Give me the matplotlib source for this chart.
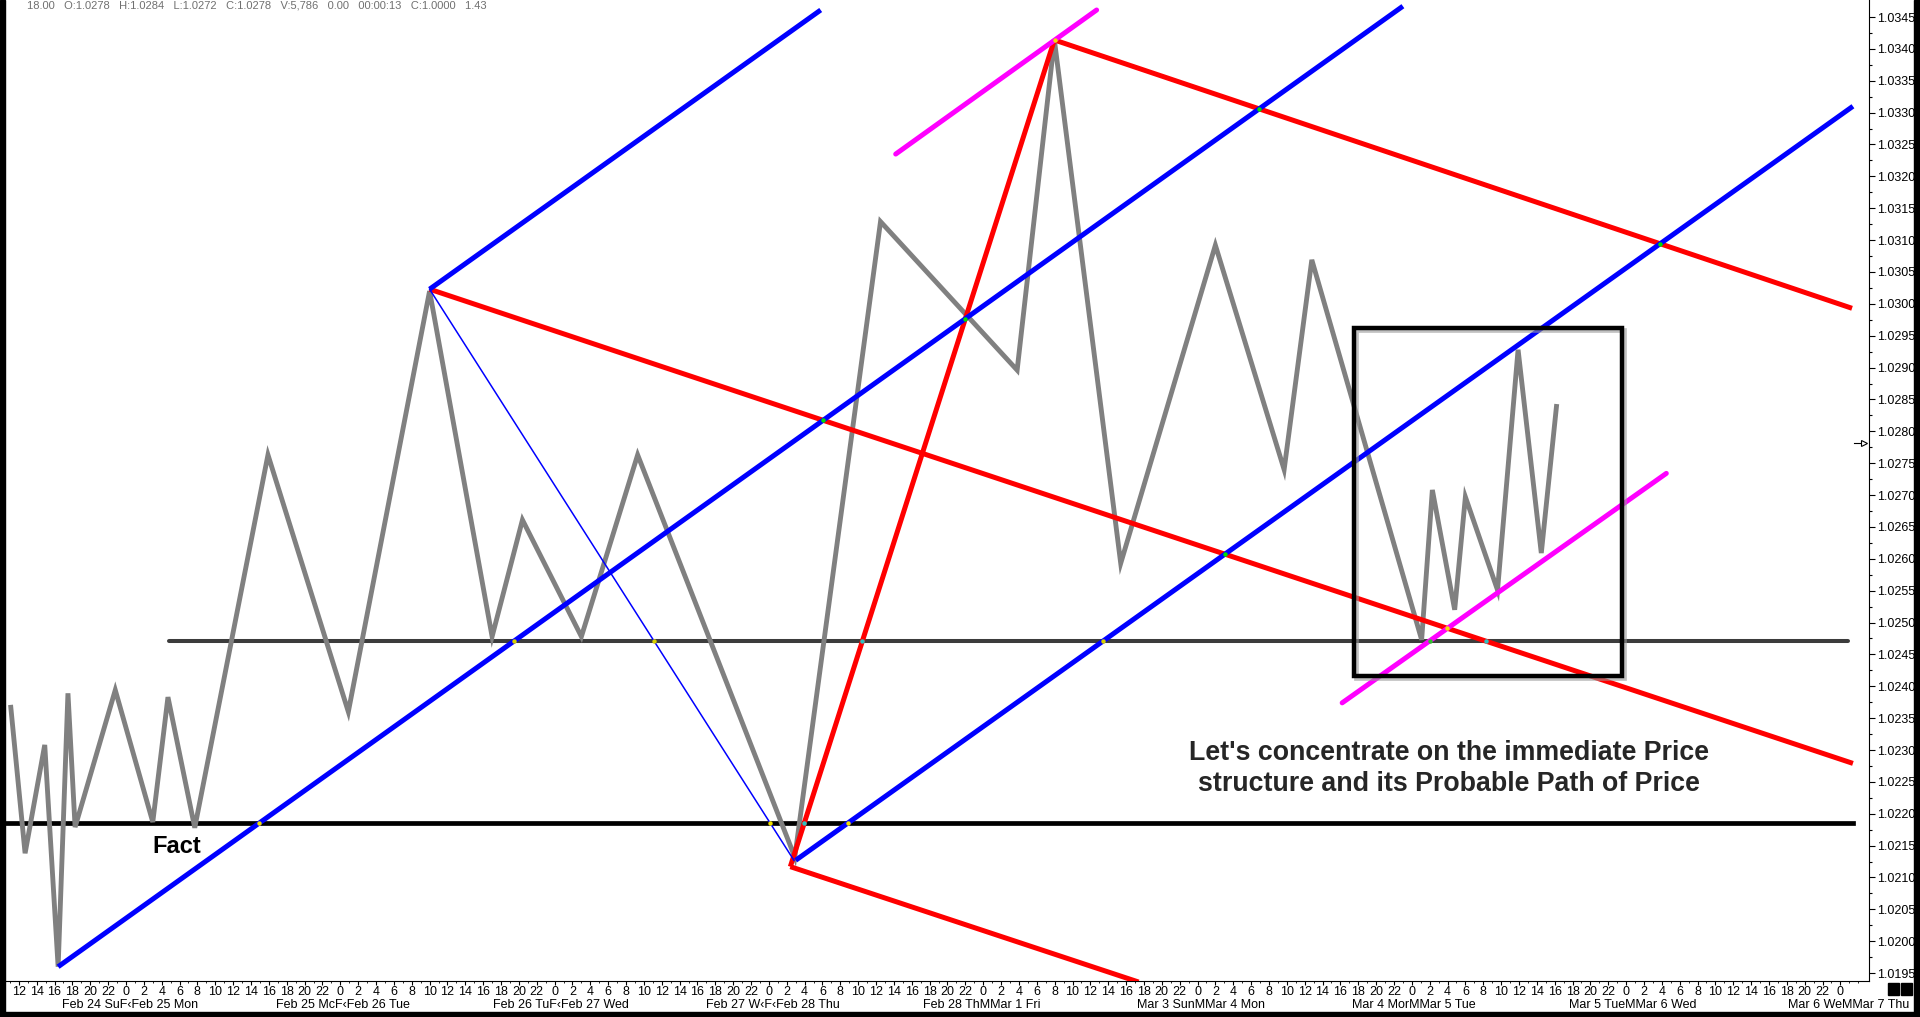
import matplotlib
matplotlib.use("Agg")
import matplotlib.pyplot as plt
from matplotlib.patches import Rectangle
import matplotlib.transforms as mtransforms
import numpy as np

plt.rcParams['font.family'] = ['Liberation Sans', 'DejaVu Sans']

# ---------------- data (x = trading hour index from Feb 24 12:00) ----------------
PRICE_IDX = [-0.9, 0.7, 2.9, 4.4, 5.5, 6.3, 10.8, 15.0, 16.7, 19.7, 27.9, 36.9, 46.0,
             53.0, 56.4, 63.0, 69.3, 86.9, 96.5, 111.8, 115.97, 123.4, 134.0, 141.7,
             144.8, 157.1, 158.3, 160.8, 162.0, 165.6, 167.9, 170.5, 172.2]
PRICE_VAL = [1.02367, 1.02138, 1.02308, 1.01960, 1.02389, 1.02179, 1.02394, 1.02187,
             1.02383, 1.02178, 1.02763, 1.02360, 1.03020, 1.02478, 1.02661, 1.02478,
             1.02763, 1.02132, 1.03129, 1.02896, 1.03414, 1.02593, 1.03092, 1.02740,
             1.03069, 1.02473, 1.02708, 1.02520, 1.02697, 1.02551, 1.02928, 1.02609,
             1.02839]

BLUE_X = [[46.0, 89.8], [4.4, 155.0], [87.0, 205.4]]
BLUE_Y = [[1.03023, 1.03461], [1.01960, 1.03467], [1.02127, 1.03310]]

RED_X = [[46.0, 205.4], [115.97, 205.3], [86.4, 125.4], [86.4, 115.97]]
RED_Y = [[1.03023, 1.02279], [1.03414, 1.02993], [1.02117, 1.01936], [1.02117, 1.03414]]

MAGENTA_X = [[98.2, 120.7], [148.2, 184.5]]
MAGENTA_Y = [[1.03235, 1.03461], [1.02374, 1.02734]]

THIN_BLUE_X = [46.0, 86.8]
THIN_BLUE_Y = [1.03023, 1.02127]

LEVEL_X = [16.8, 204.9]
LEVEL_Y = 1.02471
FACT_X = [-1.6, 205.4]
FACT_Y = 1.02185

BOX_X = [149.5, 179.5]
BOX_Y = [1.02416, 1.02962]

LAST_PRICE = 1.02781

Y_TICKS = [1.0195, 1.0200, 1.0205, 1.0210, 1.0215, 1.0220, 1.0225, 1.0230, 1.0235,
           1.0240, 1.0245, 1.0250, 1.0255, 1.0260, 1.0265, 1.0270, 1.0275, 1.0280,
           1.0285, 1.0290, 1.0295, 1.0300, 1.0305, 1.0310, 1.0315, 1.0320, 1.0325,
           1.0330, 1.0335, 1.0340, 1.0345]
HOUR_TICKS = list(range(0, 205, 2))
HOUR_LABELS = [str((12 + h) % 24) for h in HOUR_TICKS]

DATE_X = [12.45, 36.3, 60.7, 84.5, 107.8, 132.4, 156.2, 180.7, 204.9]
DATE_LABELS = ["Feb 24 SuF\u2039Feb 25 Mon", "Feb 25 McF\u2039Feb 26 Tue",
               "Feb 26 TuF\u2039Feb 27 Wed", "Feb 27 W\u2039F\u2039Feb 28 Thu",
               "Feb 28 ThMMar 1 Fri", "Mar 3 SunMMar 4 Mon", "Mar 4 MorMMar 5 Tue",
               "Mar 5 TueMMar 6 Wed", "Mar 6 WeMMar 7 Thu"]

HEADER = "18.00   O:1.0278   H:1.0284   L:1.0272   C:1.0278   V:5,786   0.00   00:00:13   C:1.0000   1.43"
NOTE = "Let's concentrate on the immediate Price\nstructure and its Probable Path of Price"

XMIN, XMAX = -1.55, 207.2
YMIN, YMAX = 1.019376, 1.034767

# ---------------- figure ----------------
W, H = 1920, 1017
fig = plt.figure(figsize=(W / 100, H / 100), dpi=100, facecolor='white')
ax = fig.add_axes([5 / W, 1 - 981 / H, (1869 - 5) / W, 981 / H])
ax.set_xlim(XMIN, XMAX)
ax.set_ylim(YMIN, YMAX)
ax.set_facecolor('white')

# horizontal levels
ax.plot(LEVEL_X, [LEVEL_Y, LEVEL_Y], color='#3c3c3c', lw=2.9, zorder=2,
        solid_capstyle='round')
ax.plot(FACT_X, [FACT_Y, FACT_Y], color='black', lw=3.4, zorder=2)

# price path
ax.plot(PRICE_IDX, PRICE_VAL, color='#808080', lw=3.5, zorder=3,
        solid_joinstyle='miter')

# pitchfork lines
for xs, ys in zip(RED_X, RED_Y):
    ax.plot(xs, ys, color='#ff0000', lw=3.6, zorder=4, solid_capstyle='butt')
for xs, ys in zip(BLUE_X, BLUE_Y):
    ax.plot(xs, ys, color='#0000ff', lw=3.6, zorder=4, solid_capstyle='butt')
ax.plot(THIN_BLUE_X, THIN_BLUE_Y, color='#0000ff', lw=1.1, zorder=4)
for xs, ys in zip(MAGENTA_X, MAGENTA_Y):
    ax.plot(xs, ys, color='#ff00ff', lw=3.6, zorder=4, solid_capstyle='round')

# small markers at line crossings
segs = []
for xs, ys in zip(BLUE_X, BLUE_Y):
    segs.append(('blue', xs, ys))
segs.append(('thin', THIN_BLUE_X, THIN_BLUE_Y))
for i, (xs, ys) in enumerate(zip(RED_X, RED_Y)):
    segs.append(('median' if i == 3 else 'red', xs, ys))
for xs, ys in zip(MAGENTA_X, MAGENTA_Y):
    segs.append(('magenta', xs, ys))
segs.append(('level', LEVEL_X, [LEVEL_Y, LEVEL_Y]))
segs.append(('fact', FACT_X, [FACT_Y, FACT_Y]))

COL = {frozenset(['blue', 'fact']): '#f0e000', frozenset(['blue', 'level']): '#d8d000',
       frozenset(['thin', 'fact']): '#f0e000', frozenset(['thin', 'level']): '#d8d000',
       frozenset(['blue', 'red']): '#00e000', frozenset(['blue', 'median']): '#00e000',
       frozenset(['red', 'level']): '#30c0c0', frozenset(['median', 'level']): '#30c0c0',
       frozenset(['median', 'fact']): '#30c0c0', frozenset(['magenta', 'level']): '#30c030',
       frozenset(['magenta', 'red']): '#f0e000'}


def inter(a, b):
    (x1, x2), (y1, y2) = a
    (x3, x4), (y3, y4) = b
    d = (x1 - x2) * (y3 - y4) - (y1 - y2) * (x3 - x4)
    if abs(d) < 1e-15:
        return None
    t = ((x1 - x3) * (y3 - y4) - (y1 - y3) * (x3 - x4)) / d
    u = -((x1 - x2) * (y1 - y3) - (y1 - y2) * (x1 - x3)) / d
    if 0 < t < 1 and 0 < u < 1:
        return x1 + t * (x2 - x1), y1 + t * (y2 - y1)
    return None


for i in range(len(segs)):
    for j in range(i + 1, len(segs)):
        key = frozenset([segs[i][0], segs[j][0]])
        if key in COL:
            p = inter((segs[i][1], segs[i][2]), (segs[j][1], segs[j][2]))
            if p is not None:
                ax.plot(p[0], p[1], 'o', ms=3.2, color=COL[key], mec='none', zorder=5)

# focus box with a soft shadow
shadow_tr = mtransforms.offset_copy(ax.transData, fig=fig, x=2, y=-2, units='dots')
shadow = Rectangle((BOX_X[0], BOX_Y[0]), BOX_X[1] - BOX_X[0], BOX_Y[1] - BOX_Y[0],
                   fill=False, ec='#999999', lw=3.4, alpha=0.6, zorder=5.5,
                   transform=shadow_tr)
ax.add_patch(shadow)
box = Rectangle((BOX_X[0], BOX_Y[0]), BOX_X[1] - BOX_X[0], BOX_Y[1] - BOX_Y[0],
                fill=False, ec='black', lw=3.2, zorder=6)
ax.add_patch(box)

# texts
ax.text(15.0, 1.02149, "Fact", fontsize=17, fontweight='bold', color='black',
        ha='left', va='center', zorder=7)
ax.text(160.2, 1.02271, NOTE, fontsize=19.3, fontweight='bold', color='#262626',
        ha='center', va='center', linespacing=1.22, zorder=7)

# last price pointer on the axis
ax.plot([205.5, 206.3], [LAST_PRICE, LAST_PRICE], color='black', lw=0.8, zorder=7,
        clip_on=False)
ax.plot([206.6], [LAST_PRICE], marker='>', ms=5, mfc='white', mec='black', mew=0.8,
        zorder=7, clip_on=False)

# axes styling
for s in ['left', 'top']:
    ax.spines[s].set_visible(False)
ax.spines['right'].set_color('black')
ax.spines['bottom'].set_color('black')
ax.spines['right'].set_linewidth(0.8)
ax.spines['bottom'].set_linewidth(0.8)

ax.yaxis.tick_right()
ax.set_yticks(Y_TICKS)
ax.set_yticklabels([f"{v:.4f}" for v in Y_TICKS])
ax.set_yticks([v + 0.00025 for v in Y_TICKS[:-1]], minor=True)
ax.tick_params(axis='y', which='major', length=4, width=0.8, pad=2, labelsize=9,
               colors='black')
ax.tick_params(axis='y', which='minor', length=2, width=0.8)

ax.set_xticks(HOUR_TICKS)
ax.set_xticklabels(HOUR_LABELS)
ax.set_xticks(list(range(-1, 207, 1)), minor=True)
ax.tick_params(axis='x', which='major', length=3, width=0.8, pad=0.5, labelsize=9)
ax.tick_params(axis='x', which='minor', length=1.5, width=0.6)

for x, lab in zip(DATE_X, DATE_LABELS):
    ax.text(x, -24 / 981, lab, transform=ax.get_xaxis_transform(), ha='center',
            va='center', fontsize=9, color='black', clip_on=False)

# header text at the very top edge
fig.text(27 / W, 1.0, HEADER, ha='left', va='top', fontsize=8, color='#707070')

# black window frame pieces
fig.patches.append(Rectangle((0, 0), 5 / W, 1, transform=fig.transFigure,
                             color='black', zorder=10))
fig.patches.append(Rectangle((1914 / W, 0), 6 / W, 1, transform=fig.transFigure,
                             color='black', zorder=10))
fig.patches.append(Rectangle((0, 0), 1, 5 / H, transform=fig.transFigure,
                             color='black', zorder=10))
for x0 in (1888, 1901):
    fig.patches.append(Rectangle((x0 / W, 1 - 995 / H), 11 / W, 12 / H,
                                 transform=fig.transFigure, color='black', zorder=10))

fig.savefig("out.png", dpi=100, facecolor='white')
